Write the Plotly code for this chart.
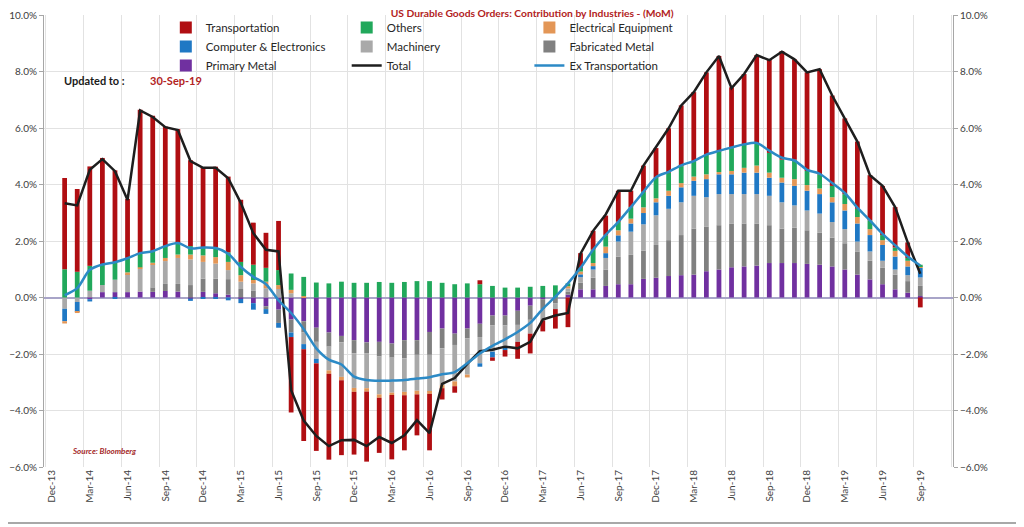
import pandas as pd
import plotly.graph_objects as go

# months on the axis; Dec-13 is shown but has no data
months = pd.date_range("2013-12-01", "2019-09-01", freq="MS").strftime("%b-%y").tolist()
tick_labels = months[::3]

# contributions (%), Jan-14 .. Sep-19
primary_metal = [
    0, 0, -0.06, 0.19, 0.19, 0.19, 0.21, 0.2, 0.23, 0.21, -0.04, 0.2,
    0.15, 0.1, -0.05, -0.2, -0.31, -0.43, -0.78, -0.84, -1.07, -1.24, -1.36, -1.51,
    -1.59, -1.57, -1.63, -1.51, -1.51, -1.22, -1.1, -1.28, -1.1, -0.93, -0.64, -0.64,
    -0.47, -0.29, -0.06, 0, 0.1, 0.29, 0.29, 0.41, 0.47, 0.47, 0.66, 0.7,
    0.76, 0.79, 0.81, 0.93, 0.99, 1.07, 1.1, 1.13, 1.22, 1.22, 1.22, 1.19,
    1.16, 1.1, 0.99, 0.81, 0.64, 0.47, 0.29, 0.17, 0.05]
fabricated_metal = [
    0, 0, 0, 0, 0, 0, 0, 0.16, 0.25, 0.27, 0.44, 0.47,
    0.52, 0.55, 0.3, 0.25, -0.1, -0.47, -0.46, -0.4, -0.5, -0.5, -0.23, -0.47,
    -0.38, -0.52, -0.5, -0.64, -0.52, -0.81, -0.7, -0.4, -0.35, -0.47, -0.35, -0.35,
    -0.5, -0.5, -0.35, -0.2, 0.1, 0.23, 0.41, 0.58, 0.98, 1.04, 1.0, 1.16,
    1.27, 1.42, 1.63, 1.57, 1.57, 1.55, 1.52, 1.49, 1.34, 1.22, 1.25, 1.19,
    1.13, 1.02, 0.93, 0.82, 0.66, 0.58, 0.52, 0.41, 0.36]
machinery = [
    -0.4, -0.16, 0.24, 0.25, 0.44, 0.64, 0.81, 0.81, 0.81, 0.92, 0.91, 0.59,
    0.53, 0.32, 0.26, 0.25, 0.33, 0.3, 0.15, -0.41, -0.6, -0.84, -1.22, -1.22,
    -1.24, -1.34, -1.24, -1.19, -1.27, -1.31, -1.3, -1.29, -1.28, -0.93, -0.93, -0.75,
    -0.6, -0.49, -0.4, -0.21, 0.12, 0.2, 0.29, 0.41, 0.53, 0.82, 0.93, 1.05,
    1.11, 1.16, 1.16, 1.05, 1.1, 1.04, 1.04, 1.04, 1.04, 0.93, 0.79, 0.7,
    0.68, 0.55, 0.5, 0.35, 0.33, 0.25, 0.18, 0.21, 0.3]
computer = [
    -0.44, -0.35, -0.08, 0, -0.02, 0, 0, 0, 0, 0, -0.08, -0.03,
    -0.05, -0.1, -0.15, -0.23, -0.17, -0.17, -0.16, -0.18, -0.16, 0, 0, 0,
    0, 0, 0, 0, 0, 0, 0, 0, 0, -0.12, -0.2, -0.12,
    0, 0, 0, 0, 0, 0.1, 0.12, 0.17, 0.22, 0.29, 0.4, 0.46,
    0.46, 0.53, 0.53, 0.64, 0.7, 0.7, 0.76, 0.76, 0.64, 0.7, 0.69, 0.7,
    0.69, 0.7, 0.66, 0.64, 0.58, 0.56, 0.46, 0.31, 0.34]
electrical = [
    -0.08, -0.04, 0, 0, 0, 0.06, 0.05, 0.06, 0.11, 0.12, 0.17, 0.23,
    0.23, 0.29, 0.23, 0.12, 0.23, 0.14, 0.12, 0.05, 0, -0.12, -0.12, -0.14,
    -0.12, -0.12, -0.08, -0.12, -0.13, -0.07, -0.11, -0.17, -0.1, 0, 0, 0,
    0, 0, 0, 0, 0.08, 0.1, 0.11, 0.23, 0.18, 0.17, 0.2, 0.14,
    0.18, 0.15, 0.15, 0.17, 0.08, 0.12, 0.17, 0.25, 0.18, 0.17, 0.24, 0.2,
    0.2, 0.18, 0.23, 0.23, 0.21, 0.17, 0.2, 0.2, 0.05]
others = [
    1.0, 0.91, 0.88, 0.73, 0.62, 0.5, 0.5, 0.41, 0.42, 0.41, 0.3, 0.29,
    0.35, 0.34, 0.47, 0.54, 0.49, 0.53, 0.58, 0.68, 0.53, 0.5, 0.56, 0.52,
    0.52, 0.55, 0.52, 0.55, 0.58, 0.58, 0.52, 0.47, 0.5, 0.47, 0.41, 0.35,
    0.35, 0.38, 0.41, 0.43, 0.1, 0.13, 0.47, 0.4, 0.3, 0.41, 0.55, 0.73,
    0.64, 0.6, 0.55, 0.7, 0.73, 0.81, 0.82, 0.8, 0.7, 0.64, 0.69, 0.5,
    0.5, 0.4, 0.35, 0.29, 0.31, 0.18, 0.12, 0.1, 0.06]
transportation = [
    3.23, 2.93, 3.52, 3.77, 3.25, 2.1, 5.08, 4.79, 4.23, 4.03, 3.04, 2.84,
    2.85, 2.68, 2.2, 1.49, 1.24, 1.74, -2.67, -3.25, -3.1, -3.04, -2.65, -2.22,
    -2.48, -1.95, -2.28, -1.95, -1.45, -2.0, -0.4, -0.23, 0, 0.14, -0.12, -0.23,
    -0.6, -0.7, -0.39, -0.69, -1.05, 0.52, 0.67, 0.7, 1.1, 0.58, 0.93, 1.05,
    1.57, 2.15, 2.44, 2.91, 3.38, 2.15, 2.5, 3.11, 3.31, 3.84, 3.55, 3.49,
    3.72, 3.2, 2.68, 2.38, 1.6, 1.74, 1.43, 0.55, -0.35]
total = [
    3.34, 3.26, 4.52, 4.9, 4.47, 3.45, 6.62, 6.39, 6.03, 5.93, 4.83, 4.59,
    4.59, 4.22, 3.35, 2.27, 1.69, 1.63, -3.28, -4.36, -4.9, -5.26, -5.05, -5.04,
    -5.26, -4.94, -5.15, -4.88, -4.34, -4.8, -3.06, -2.85, -2.35, -1.9, -1.85, -1.74,
    -1.8, -1.57, -0.78, -0.64, -0.55, 1.55, 2.36, 2.94, 3.78, 3.78, 4.67, 5.35,
    5.99, 6.8, 7.27, 7.97, 8.55, 7.41, 7.91, 8.58, 8.4, 8.7, 8.43, 7.97,
    8.08, 7.15, 6.34, 5.52, 4.33, 3.95, 3.2, 1.95, 0.84]
ex_transportation = [
    0.08, 0.33, 0.98, 1.17, 1.25, 1.39, 1.57, 1.64, 1.82, 1.93, 1.74, 1.77,
    1.75, 1.55, 1.08, 0.73, 0.47, -0.1, -0.55, -1.12, -1.8, -2.2, -2.37, -2.8,
    -2.92, -2.95, -2.94, -2.92, -2.87, -2.82, -2.72, -2.64, -2.33, -1.98, -1.71, -1.48,
    -1.22, -0.9, -0.4, 0.03, 0.5, 1.05, 1.69, 2.22, 2.68, 3.2, 3.74, 4.26,
    4.45, 4.68, 4.83, 5.06, 5.19, 5.31, 5.42, 5.47, 5.2, 4.95, 4.85, 4.52,
    4.38, 4.05, 3.7, 3.18, 2.73, 2.25, 1.85, 1.45, 1.13]

x = list(range(1, len(months)))
tick_pos = list(range(0, len(months), 3))

FONT = "Lato"
RED = "#B22222"

fig = go.Figure()

# stacking order from zero outwards
bars = [
    ("Primary Metal", primary_metal, "#7030A0", "legend", 3),
    ("Fabricated Metal", fabricated_metal, "#808080", "legend3", 2),
    ("Machinery", machinery, "#A9A9A9", "legend2", 2),
    ("Computer & Electronics", computer, "#1F78C4", "legend", 2),
    ("Electrical Equipment", electrical, "#E39656", "legend3", 1),
    ("Others", others, "#21A85B", "legend2", 1),
    ("Transportation", transportation, "#B00E12", "legend", 1),
]
for name, vals, col, leg, rank in bars:
    fig.add_trace(go.Bar(x=x, y=vals, name=name, marker_color=col,
                         marker_line_width=0, width=0.38,
                         legend=leg, legendrank=rank))

fig.add_trace(go.Scatter(x=x, y=total, name="Total", mode="lines",
                         line=dict(color="#1E1E1E", width=2.5),
                         legend="legend2", legendrank=3))
fig.add_trace(go.Scatter(x=x, y=ex_transportation, name="Ex Transportation", mode="lines",
                         line=dict(color="#2C8AC6", width=2.5, shape="spline", smoothing=0.8),
                         legend="legend3", legendrank=3))
# dummy trace so the right axis is drawn
fig.add_trace(go.Scatter(x=[None], y=[None], yaxis="y2", showlegend=False, hoverinfo="skip"))

yax = dict(range=[-6, 10], dtick=2, tickformat=".1f", ticksuffix="%",
           ticks="outside", ticklen=4, tickcolor="#A6A6A6", automargin=False,
           showline=True, linecolor="#A6A6A6", linewidth=1,
           tickfont=dict(size=10, color="#404040"))

leg = dict(xanchor="left", yanchor="top", y=1.0044, traceorder="normal",
           bgcolor="rgba(0,0,0,0)", font=dict(family=FONT, size=11.5, color="#262626"))

# the page adds an 8px body margin, so the figure sits 8px down and right
fig.update_layout(
    width=1024, height=527,
    margin=dict(l=36, r=79, t=7, b=68, autoexpand=False),
    barmode="relative",
    paper_bgcolor="white", plot_bgcolor="white",
    font=dict(family=FONT, size=10, color="#404040"),
    title=dict(text="<b>US Durable Goods Orders: Contribution by Industries - (MoM)</b>",
               x=0.537, xref="paper", xanchor="center", y=0.9896, yref="container", yanchor="middle",
               font=dict(family=FONT, size=10.3, color=RED)),
    xaxis=dict(range=[-0.64, 71.6], tickmode="array", tickvals=tick_pos, ticktext=tick_labels,
               tickangle=-90, showgrid=False, zeroline=False, ticks="", automargin=False,
               tickfont=dict(size=10, color="#404040"),
               minor=dict(tickmode="linear", tick0=-0.5, dtick=3, showgrid=True,
                          gridcolor="#E2E2E2", ticks="")),
    yaxis=dict(**yax, showgrid=True, gridcolor="#E2E2E2",
               zeroline=True, zerolinecolor="#A8A4C8", zerolinewidth=2),
    yaxis2=dict(**yax, overlaying="y", side="right", showgrid=False, zeroline=False),
    legend=dict(leg, x=0.134),
    legend2=dict(leg, x=0.333),
    legend3=dict(leg, x=0.534),
    showlegend=True,
)

fig.add_annotation(text="<b>Updated to :</b>", xref="paper", yref="paper",
                   x=0.0198, y=0.856, xanchor="left", yanchor="middle", showarrow=False,
                   font=dict(family=FONT, size=11, color="#1A1A1A"))
fig.add_annotation(text="<b>30-Sep-19</b>", xref="paper", yref="paper",
                   x=0.1145, y=0.856, xanchor="left", yanchor="middle", showarrow=False,
                   font=dict(family=FONT, size=11, color=RED))
fig.add_annotation(text="<b><i>Source: Bloomberg</i></b>", xref="paper", yref="paper",
                   x=0.0286, y=0.0354, xanchor="left", yanchor="middle", showarrow=False,
                   font=dict(family=FONT, size=8, color="#A52A2A"))

# outer chart border
fig.add_shape(type="rect", xref="paper", yref="paper",
              x0=-0.0484, x1=1.0763, y0=-0.1239, y1=1.031,
              line=dict(color="#8C8C8C", width=1.5))

fig.write_html("out.html")
